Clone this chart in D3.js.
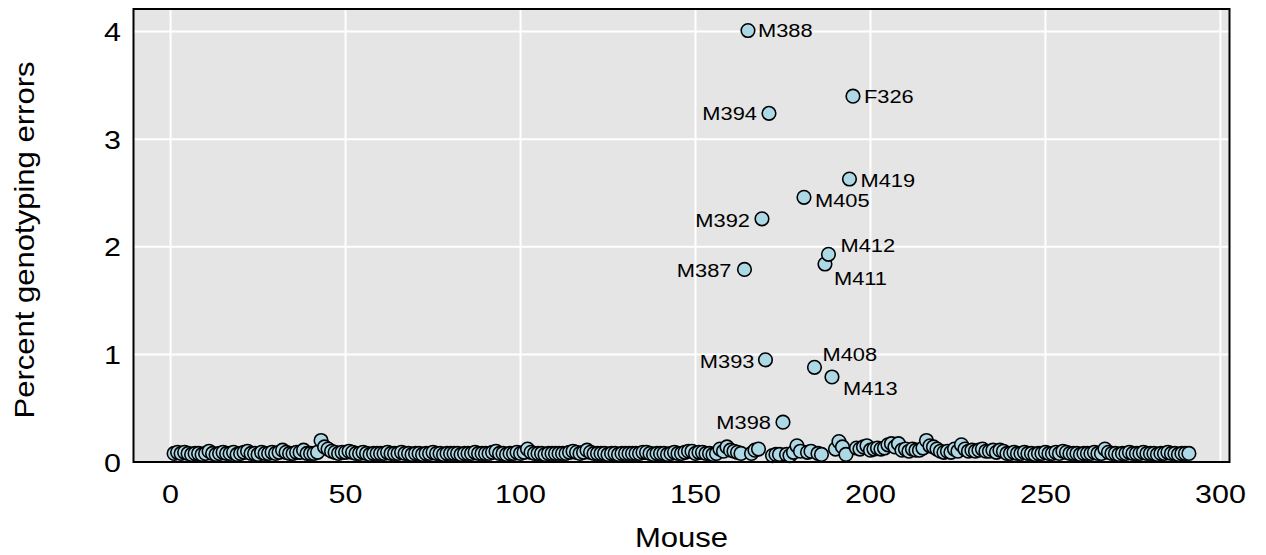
<!DOCTYPE html>
<html>
<head>
<meta charset="utf-8">
<script src="https://cdn.jsdelivr.net/npm/d3@7/dist/d3.min.js"></script>
<style>
  html, body { margin: 0; padding: 0; background: #fff; }
  text { font-family: "Liberation Sans", Arial, Helvetica, sans-serif; fill: #000; }
</style>
</head>
<body>
<svg id="chart" width="1266" height="555"></svg>
<script>
// Percent genotyping errors for each mouse, in mouse order (1..291)
const errorPct = [
  0.08,0.09,0.08,0.09,0.08,0.07,0.08,0.08,0.07,0.08,
  0.10,0.08,0.07,0.08,0.09,0.08,0.08,0.09,0.07,0.08,
  0.09,0.10,0.08,0.08,0.07,0.09,0.08,0.08,0.09,0.08,
  0.09,0.11,0.09,0.08,0.08,0.09,0.09,0.11,0.08,0.08,
  0.08,0.09,0.20,0.14,0.12,0.10,0.09,0.08,0.09,0.09,
  0.10,0.09,0.08,0.08,0.09,0.08,0.07,0.08,0.08,0.08,
  0.08,0.09,0.08,0.08,0.08,0.09,0.08,0.08,0.07,0.08,
  0.08,0.07,0.08,0.08,0.09,0.08,0.08,0.07,0.08,0.08,
  0.08,0.08,0.07,0.08,0.08,0.08,0.09,0.08,0.08,0.08,
  0.08,0.09,0.10,0.08,0.08,0.07,0.08,0.08,0.09,0.08,
  0.09,0.12,0.09,0.08,0.08,0.08,0.07,0.08,0.08,0.08,
  0.08,0.08,0.08,0.09,0.10,0.09,0.08,0.09,0.11,0.09,
  0.08,0.08,0.08,0.08,0.07,0.08,0.08,0.07,0.08,0.08,
  0.08,0.08,0.08,0.08,0.09,0.09,0.08,0.07,0.08,0.08,
  0.08,0.07,0.08,0.09,0.08,0.08,0.09,0.10,0.10,0.08,
  0.09,0.09,0.08,0.08,0.07,0.08,0.12,0.10,0.14,0.11,
  0.10,0.09,0.08,1.79,4.01,0.08,0.11,0.12,2.26,0.95,
  3.24,0.06,0.07,0.07,0.37,0.07,0.06,0.09,0.15,0.10,
  2.46,0.09,0.10,0.88,0.08,0.07,1.84,1.93,0.79,0.12,
  0.19,0.14,0.07,2.63,3.40,0.13,0.12,0.14,0.15,0.11,
  0.12,0.13,0.12,0.13,0.16,0.17,0.14,0.17,0.11,0.12,
  0.10,0.12,0.11,0.11,0.13,0.20,0.15,0.14,0.12,0.10,
  0.09,0.10,0.09,0.12,0.10,0.16,0.12,0.10,0.11,0.10,
  0.11,0.12,0.10,0.10,0.11,0.09,0.11,0.10,0.08,0.08,
  0.09,0.08,0.08,0.09,0.08,0.08,0.07,0.08,0.08,0.09,
  0.08,0.08,0.09,0.08,0.10,0.09,0.08,0.08,0.08,0.07,
  0.08,0.08,0.08,0.09,0.08,0.08,0.12,0.09,0.08,0.08,
  0.07,0.08,0.08,0.09,0.08,0.08,0.08,0.09,0.08,0.08,
  0.08,0.07,0.08,0.08,0.09,0.08,0.08,0.07,0.08,0.08,
  0.08
];

// Mice singled out with an ID label (position in the mouse order)
const labeledIndex = [165, 195, 171, 194, 181, 169, 188, 187, 164, 170, 184, 189, 175];
const labeledId    = ["M388", "F326", "M394", "M419", "M405", "M392", "M412", "M411", "M387", "M393", "M408", "M413", "M398"];

const xTicks = [0, 50, 100, 150, 200, 250, 300];
const yTicks = [0, 1, 2, 3, 4];
const xTitle = "Mouse";
const yTitle = "Percent genotyping errors";

// Label placement next to each point: [dx, dy, anchor]
const labelPlacement = {
  M388: [10, 0, "start"],  F326: [11, 0, "start"],  M394: [-12, 0, "end"],
  M419: [11, 1, "start"],  M405: [11, 3, "start"],  M392: [-12, 1, "end"],
  M412: [12, -9, "start"], M411: [9, 14, "start"],  M387: [-13, 1, "end"],
  M393: [-11, 1, "end"],   M408: [8, -13, "start"], M413: [11, 11, "start"],
  M398: [-12, 0, "end"]
};

const panel = { left: 133.5, right: 1229.5, top: 9, bottom: 462 };
const stretch = 1.15;      // horizontal glyph stretch of the text
const tickSize = 26.5;
const titleSize = 27;
const labelSize = 19;

const svg = d3.select("#chart");

const mice = errorPct.map((v, i) => ({ mouse: i + 1, pct: v }));
const n = mice.length;
const pad = (n - 1) * 0.04;

const x = d3.scaleLinear().domain([1 - pad, n + pad]).range([panel.left, panel.right]);
const y = d3.scaleLinear().domain([0, 4.21]).range([panel.bottom, panel.top]);

// panel background
svg.append("rect")
  .attr("x", panel.left).attr("y", panel.top)
  .attr("width", panel.right - panel.left).attr("height", panel.bottom - panel.top)
  .attr("fill", "#e5e5e5");

// grid
const grid = svg.append("g").attr("stroke", "#fff").attr("stroke-width", 2);
grid.selectAll("line.v").data(xTicks).join("line")
  .attr("x1", d => x(d)).attr("x2", d => x(d))
  .attr("y1", panel.top).attr("y2", panel.bottom);
grid.selectAll("line.h").data(yTicks).join("line")
  .attr("y1", d => y(d)).attr("y2", d => y(d))
  .attr("x1", panel.left).attr("x2", panel.right);

function stretchedText(g, tx, ty, str, size, anchor, rotate) {
  return g.append("text")
    .attr("transform", `translate(${tx},${ty})${rotate ? " rotate(" + rotate + ")" : ""} scale(${stretch},1)`)
    .attr("text-anchor", anchor)
    .attr("font-size", size)
    .text(str);
}

// tick labels and axis titles
const axisG = svg.append("g");
xTicks.forEach(t => stretchedText(axisG, x(t), 503, String(t), tickSize, "middle"));
yTicks.forEach(t => stretchedText(axisG, 121, y(t) + tickSize * 0.36, String(t), tickSize, "end"));

stretchedText(axisG, (panel.left + panel.right) / 2, 547, xTitle, titleSize, "middle");
stretchedText(axisG, 34, 240, yTitle, titleSize, "middle", -90);

// points
svg.append("g").selectAll("circle").data(mice).join("circle")
  .attr("cx", d => x(d.mouse))
  .attr("cy", d => y(d.pct))
  .attr("r", 6.8)
  .attr("fill", "#add8e6")
  .attr("stroke", "#000")
  .attr("stroke-width", 1.6);

// ID labels
const labG = svg.append("g");
labeledIndex.forEach((idx, i) => {
  const id = labeledId[i];
  const [dx, dy, anchor] = labelPlacement[id];
  const m = mice[idx - 1];
  stretchedText(labG, x(m.mouse) + dx, y(m.pct) + dy + labelSize * 0.36, id, labelSize, anchor);
});

// panel border
svg.append("rect")
  .attr("x", panel.left).attr("y", panel.top)
  .attr("width", panel.right - panel.left).attr("height", panel.bottom - panel.top)
  .attr("fill", "none").attr("stroke", "#000").attr("stroke-width", 2);
</script>
</body>
</html>
